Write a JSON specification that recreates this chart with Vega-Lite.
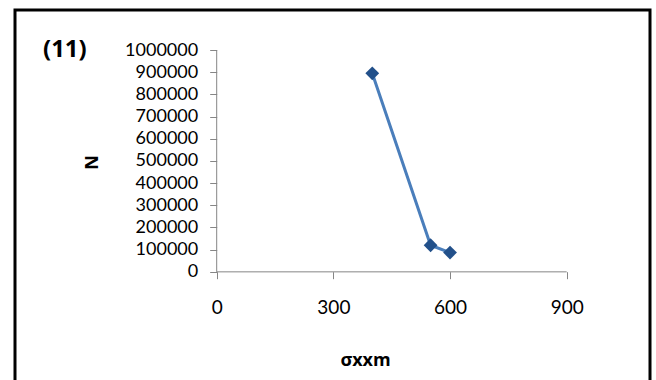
{
  "$schema": "https://vega.github.io/schema/vega-lite/v6.json",
  "width": 635,
  "height": 374,
  "autosize": {"type": "none"},
  "padding": {"left": 15, "top": 10, "right": 6, "bottom": -4},
  "background": "white",
  "title": {
    "text": "(11)",
    "anchor": "start",
    "frame": "group",
    "orient": "top",
    "offset": 0,
    "baseline": "top",
    "dx": 28,
    "dy": 52,
    "font": "Open Sans",
    "fontSize": 24,
    "fontWeight": "bold",
    "color": "#000000"
  },
  "config": {
    "view": {"stroke": "#000000", "strokeWidth": 3},
    "axis": {"grid": false}
  },
  "encoding": {
    "x": {
      "field": "sigma",
      "type": "quantitative",
      "scale": {"domain": [-518.66, 1114.2], "nice": false, "zero": false},
      "axis": {
        "values": [0, 300, 600, 900],
        "domain": false,
        "offset": -112.3,
        "tickSize": 7,
        "tickColor": "#868686",
        "labelPadding": 20,
        "labelFont": "Lato",
        "labelFontSize": 19,
        "labelColor": "#000000",
        "labelFlush": false,
        "labelOverlap": false,
        "title": "σxxm",
        "titleFont": "Open Sans",
        "titleFontSize": 18,
        "titleFontWeight": "bold",
        "titleColor": "#000000",
        "titleX": 350,
        "titleY": 94,
        "titleBaseline": "alphabetic",
        "titleAlign": "center"
      }
    },
    "y": {
      "field": "N",
      "type": "quantitative",
      "scale": {"domain": [-505541, 1180424], "nice": false, "zero": false},
      "axis": {
        "values": [0, 100000, 200000, 300000, 400000, 500000, 600000, 700000, 800000, 900000, 1000000],
        "format": "d",
        "domain": false,
        "offset": -201.7,
        "tickSize": 7,
        "tickColor": "#868686",
        "labelPadding": 12,
        "labelFont": "Lato",
        "labelFontSize": 18,
        "labelColor": "#000000",
        "labelFlush": false,
        "labelOverlap": false,
        "title": "N",
        "titleFont": "Open Sans",
        "titleFontSize": 18,
        "titleFontWeight": "bold",
        "titleColor": "#000000",
        "titleX": -124.7,
        "titleY": 152,
        "titleAngle": 270,
        "titleBaseline": "middle",
        "titleAlign": "center"
      }
    }
  },
  "layer": [
    {
      "data": {"values": [{"sigma": 0, "sigma2": 900, "N": 0}]},
      "mark": {"type": "rule", "color": "#868686", "strokeWidth": 1},
      "encoding": {"x2": {"field": "sigma2"}}
    },
    {
      "data": {"values": [{"sigma": 0, "N": 0, "N2": 1000000}]},
      "mark": {"type": "rule", "color": "#868686", "strokeWidth": 1},
      "encoding": {"y2": {"field": "N2"}}
    },
    {
      "data": {"values": [
        {"sigma": 400, "N": 895000},
        {"sigma": 550, "N": 120000},
        {"sigma": 600, "N": 87000}
      ]},
      "mark": {"type": "line", "color": "#4a7ebb", "strokeWidth": 3},
      "encoding": {}
    },
    {
      "data": {"values": [
        {"sigma": 400, "N": 895000},
        {"sigma": 550, "N": 120000},
        {"sigma": 600, "N": 87000}
      ]},
      "mark": {"type": "point", "shape": "diamond", "filled": true, "opacity": 1, "color": "#22508a", "size": 190},
      "encoding": {}
    }
  ]
}
